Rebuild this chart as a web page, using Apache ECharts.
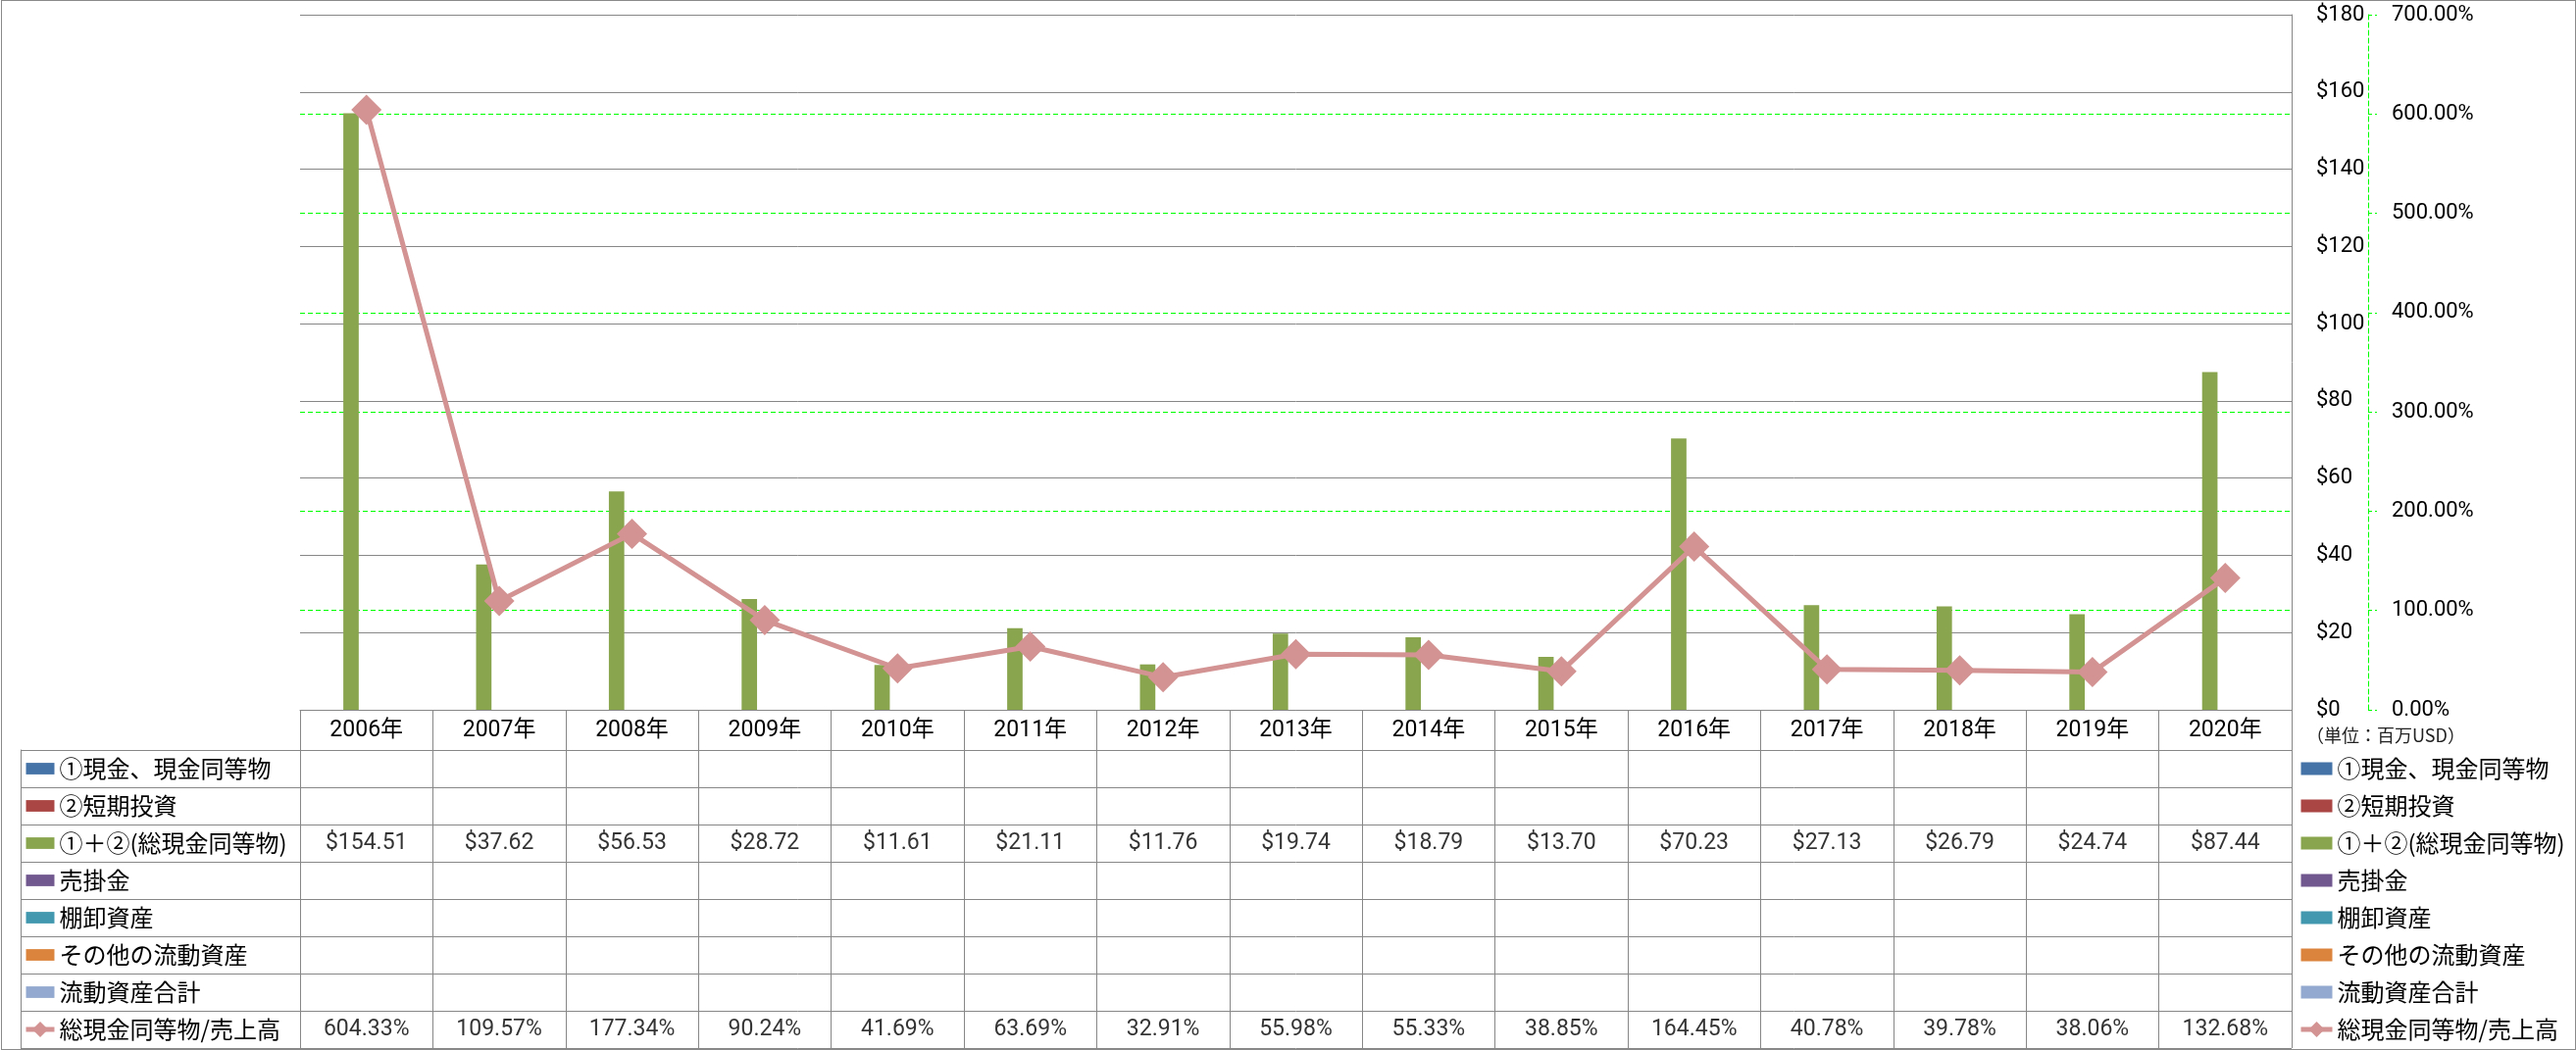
<!DOCTYPE html>
<html>
<head>
<meta charset="utf-8">
<script src="https://cdn.jsdelivr.net/npm/echarts@6/dist/echarts.min.js"></script>
<style>
html,body{margin:0;padding:0;background:#fff;}
#chart{position:absolute;left:0;top:0;width:2627px;height:1071px;}
#frame{position:absolute;left:1px;top:0px;width:2626px;height:1071px;box-sizing:border-box;border:1px solid #8a8a8a;pointer-events:none;}
</style>
</head>
<body>
<div id="chart"></div>
<div id="frame"></div>
<script>
// ---- data ----
const years = ['2006年','2007年','2008年','2009年','2010年','2011年','2012年','2013年','2014年','2015年','2016年','2017年','2018年','2019年','2020年'];
const cashValues = [154.51, 37.62, 56.53, 28.72, 11.61, 21.11, 11.76, 19.74, 18.79, 13.70, 70.23, 27.13, 26.79, 24.74, 87.44];
const ratioValues = [604.33, 109.57, 177.34, 90.24, 41.69, 63.69, 32.91, 55.98, 55.33, 38.85, 164.45, 40.78, 39.78, 38.06, 132.68];
const seriesNames = ['①現金、現金同等物','②短期投資','①＋②(総現金同等物)','売掛金','棚卸資産','その他の流動資産','流動資産合計','総現金同等物/売上高'];
const seriesColors = ['#4572A7','#AA4643','#89A54E','#71588F','#4198AF','#DB843D','#93A9CF','#D29392'];
const dollarTicks = {min:0, max:180, interval:20};
const percentTicks = {min:0, max:700, interval:100};
const unitText = '（単位：百万USD）';

// ---- styles ----
const GRAY = '#878787';
const GREEN = '#00ff00';
const NUMFONT = "Roboto, 'Noto Sans CJK JP', sans-serif";
const JPFONT = "'Noto Sans CJK JP', sans-serif";
// rectangle legend icon (13px tall bar inside a 20px tall box)
const RECT_ICON = 'path://M0,0L0,0M0,20L0,20M0,3.5L32,3.5L32,16.5L0,16.5Z';

const barSeries = seriesNames.slice(0, 7).map((n, i) => ({
  type: 'bar', name: n, xAxisIndex: 0, yAxisIndex: 0,
  data: (i === 2) ? cashValues : [],
  barGap: '0%', barCategoryGap: '18.7%',
  itemStyle: {color: seriesColors[i]},
  z: 2
}));

const lineSeries = {
  type: 'line', name: seriesNames[7], xAxisIndex: 0, yAxisIndex: 1,
  data: ratioValues,
  symbol: 'diamond', symbolSize: 31,
  lineStyle: {color: seriesColors[7], width: 5},
  itemStyle: {color: seriesColors[7]},
  z: 5
};

const cellLabel = {show: true, position: 'inside', fontSize: 23, color: '#000', fontFamily: NUMFONT};
const cashCells = {
  type: 'scatter', xAxisIndex: 1, yAxisIndex: 2, silent: true,
  data: cashValues.map((v, i) => [years[i], seriesNames[2], v]),
  symbolSize: 0, itemStyle: {color: 'transparent'},
  label: Object.assign({formatter: p => '$' + p.value[2].toFixed(2)}, cellLabel)
};
const ratioCells = {
  type: 'scatter', xAxisIndex: 1, yAxisIndex: 2, silent: true,
  data: ratioValues.map((v, i) => [years[i], seriesNames[7], v]),
  symbolSize: 0, itemStyle: {color: 'transparent'},
  label: Object.assign({formatter: p => p.value[2].toFixed(2) + '%'}, cellLabel)
};

const legendData = seriesNames.map((n, i) => i < 7 ? {name: n, icon: RECT_ICON} : {name: n, lineStyle: {width: 5}});
const legendText = {fontSize: 24, lineHeight: 24, color: '#000', fontFamily: JPFONT};

const hiddenCat = {
  axisLine: {show: false}, axisTick: {show: false}, axisLabel: {show: false},
  splitLine: {show: true, interval: 0, lineStyle: {color: GRAY, width: 1}}
};

const option = {
  animation: false,
  backgroundColor: '#fff',
  textStyle: {fontFamily: NUMFONT},
  title: {text: unitText, left: 2352, top: 741, padding: 0,
          textStyle: {fontSize: 18, fontWeight: 'normal', color: '#222', fontFamily: JPFONT}},
  grid: [
    {left: 306, right: 290, top: 15, bottom: 347},
    {left: 306, right: 290, top: 765, bottom: 2},
    {left: 21, width: 285, top: 765, bottom: 2}
  ],
  legend: [
    {left: 2344, top: 772, orient: 'vertical', padding: 0, itemWidth: 32, itemHeight: 20, itemGap: 14,
     selectedMode: false, data: legendData, textStyle: legendText},
    {left: 24, top: 772, orient: 'vertical', padding: 0, itemWidth: 29, itemHeight: 20, itemGap: 14,
     selectedMode: false, data: legendData, textStyle: legendText}
  ],
  xAxis: [
    {gridIndex: 0, type: 'category', data: years,
     axisLine: {show: true, lineStyle: {color: GRAY, width: 1}},
     axisTick: {show: true, interval: 0, length: 41, lineStyle: {color: GRAY, width: 1}},
     axisLabel: {interval: 0, margin: 10, fontSize: 23, lineHeight: 23, color: '#000', fontFamily: NUMFONT},
     splitLine: {show: false}},
    Object.assign({gridIndex: 1, type: 'category', data: years}, hiddenCat),
    Object.assign({gridIndex: 2, type: 'category', data: ['']}, hiddenCat)
  ],
  yAxis: [
    {gridIndex: 0, type: 'value', position: 'right', min: dollarTicks.min, max: dollarTicks.max, interval: dollarTicks.interval,
     axisLine: {show: true, lineStyle: {color: GRAY, width: 1}},
     axisTick: {show: false},
     axisLabel: {margin: 25, fontSize: 22, color: '#000', fontFamily: NUMFONT, formatter: v => '$' + v},
     splitLine: {show: true, lineStyle: {color: GRAY, width: 1}}},
    {gridIndex: 0, type: 'value', position: 'right', offset: 78, min: percentTicks.min, max: percentTicks.max, interval: percentTicks.interval,
     axisLine: {show: true, lineStyle: {color: GREEN, width: 1, type: [5, 3]}},
     axisTick: {show: true, length: 9, lineStyle: {color: GREEN, width: 1, type: [4, 3]}},
     axisLabel: {margin: 24, fontSize: 22, color: '#000', fontFamily: NUMFONT, formatter: v => v.toFixed(2) + '%'},
     splitLine: {show: true, showMinLine: false, showMaxLine: false, lineStyle: {color: GREEN, width: 1, type: [5, 3]}}},
    Object.assign({gridIndex: 1, type: 'category', data: seriesNames, inverse: true}, hiddenCat),
    Object.assign({gridIndex: 2, type: 'category', data: seriesNames, inverse: true}, hiddenCat, {axisLine: {show: true, lineStyle: {color: GRAY, width: 1}}})
  ],
  series: barSeries.concat([lineSeries, cashCells, ratioCells])
};

const chart = echarts.init(document.getElementById('chart'), null, {renderer: 'canvas'});
chart.setOption(option);
</script>
</body>
</html>
